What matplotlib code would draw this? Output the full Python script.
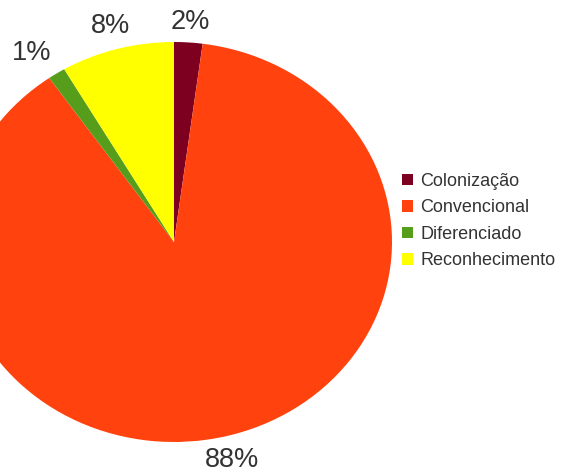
import numpy as np
import matplotlib
matplotlib.use("Agg")
import matplotlib.pyplot as plt
from matplotlib.patches import Patch

# categories and shares (percent)
categories = ["Colonização", "Convencional", "Diferenciado", "Reconhecimento"]
shares = [2.1, 88.2, 1.3, 8.4]
colors = ["#7e0021", "#ff420e", "#579d1c", "#ffff00"]

W, H = 566, 470
plt.rcParams["font.family"] = ["Liberation Sans", "DejaVu Sans"]

fig = plt.figure(figsize=(W / 100, H / 100), dpi=100)
# pie is a bit wider than tall in the reference, so axes box in pixels
cx, cy, rx, ry = 174, 242, 218, 200
ax = fig.add_axes([(cx - rx) / W, (H - cy - ry) / H, 2 * rx / W, 2 * ry / H])

wedges, texts, autotexts = ax.pie(
    shares,
    colors=colors,
    startangle=90,
    counterclock=False,
    autopct="%.0f%%",
    pctdistance=1.12,
    wedgeprops=dict(linewidth=0),
    textprops=dict(fontsize=19.5, color="#333333"),
)
ax.set_aspect("auto")
ax.set_xlim(-1, 1)
ax.set_ylim(-1, 1)

# small nudges so the labels sit like the reference
for t in autotexts:
    t.set_clip_on(False)
autotexts[0].set_y(autotexts[0].get_position()[1] - 0.02)
autotexts[2].set_x(autotexts[2].get_position()[0] - 0.05)

handles = [Patch(facecolor=c, edgecolor="none") for c in colors]
fig.legend(
    handles,
    categories,
    loc="upper left",
    bbox_to_anchor=(402 / W, (H - 173) / H),
    frameon=False,
    fontsize=13,
    handlelength=0.62,
    handleheight=0.62,
    handletextpad=0.4,
    labelspacing=0.52,
    labelcolor="#333333",
    borderaxespad=0,
    borderpad=0,
)

fig.savefig("out.png", dpi=100)
